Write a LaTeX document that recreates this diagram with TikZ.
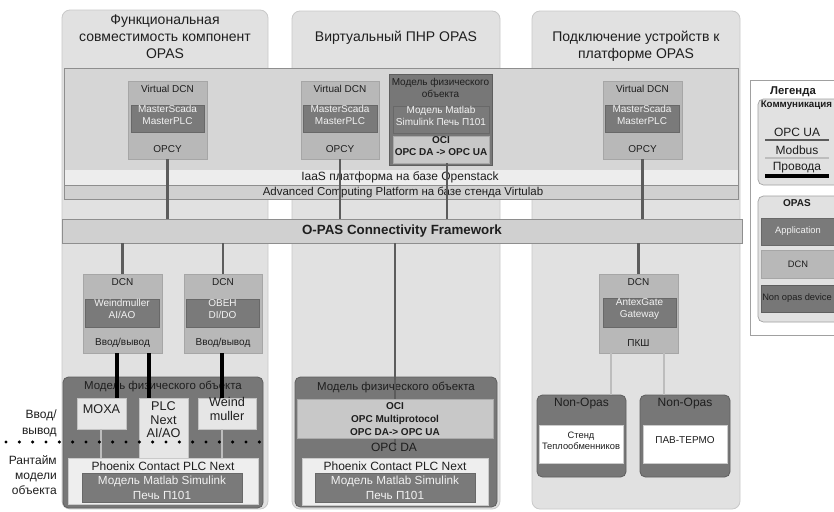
\documentclass[tikz,border=0pt]{standalone}
\usepackage{fontspec}
\setmainfont{Liberation Sans}
\usetikzlibrary{fit,calc}
\definecolor{colbg}{HTML}{E1E1E1}
\definecolor{colbd}{HTML}{C9C9C9}
\definecolor{platbg}{HTML}{D6D6D6}
\definecolor{platbd}{HTML}{8E8E8E}
\definecolor{iaasbg}{HTML}{EDEDED}
\definecolor{advbg}{HTML}{D0D0D0}
\definecolor{dcnbg}{HTML}{B8B8B8}
\definecolor{appbg}{HTML}{7A7A7A}
\definecolor{modbg}{HTML}{777777}
\definecolor{modbd}{HTML}{5E5E5E}
\definecolor{ocibg}{HTML}{C8C8C8}
\definecolor{devbg}{HTML}{E6E6E6}
\definecolor{phxbg}{HTML}{EEEEEE}
\definecolor{opcua}{HTML}{5C5C5C}
\definecolor{modbus}{HTML}{BDBDBD}
\definecolor{txt}{HTML}{1E1E1E}
\definecolor{wtxt}{HTML}{F2F2F2}
\definecolor{legbd}{HTML}{A0A0A0}
\begin{document}
\begin{tikzpicture}[x=0.75pt,y=-0.75pt,
  every node/.style={inner sep=0pt, text=txt},
  area/.style={draw=colbd, fill=colbg, rounded corners=6pt, line width=0.6pt},
  plat/.style={draw=platbd, fill=platbg, line width=0.6pt},
  band/.style={fill=iaasbg},
  advband/.style={draw=platbd, fill=advbg, line width=0.4pt},
  dcnbox/.style={fill=dcnbg, draw=dcnbg!90!black, line width=0.3pt},
  appbox/.style={fill=appbg, draw=appbg!85!black, line width=0.3pt, text=wtxt, align=center},
  modbox/.style={fill=modbg, draw=modbd, rounded corners=4pt, line width=0.6pt},
  modtop/.style={fill=modbg, draw=modbd, line width=0.6pt},
  ocibox/.style={fill=ocibg, draw=ocibg!85!black, line width=0.3pt, align=center},
  devbox/.style={fill=devbg, draw=devbg!85!black, line width=0.3pt, align=center},
  phxbox/.style={fill=phxbg, draw=phxbg!85!black, line width=0.3pt},
  wbox/.style={fill=white, draw=white!80!black, line width=0.3pt, align=center},
  opc/.style={draw=opcua, line width=2pt},
  wire/.style={draw=black, line width=2.4pt},
  mbus/.style={draw=modbus, line width=2pt},
  ftitle/.style={font=\fontsize{10.5}{12.75}\selectfont, align=center},
  fsm/.style={font=\fontsize{7.5}{9}\selectfont, align=center},
  fmd/.style={font=\fontsize{9}{11}\selectfont, align=center},
  fdev/.style={font=\fontsize{9.5}{10.2}\selectfont, align=center},
  fbold/.style={font=\fontsize{7.5}{9.5}\selectfont\bfseries, align=center},
  fmat/.style={font=\fontsize{8.8}{11}\selectfont, align=center, text=wtxt}
]
\useasboundingbox (0,0) rectangle (834,511);
\clip (0,0) rectangle (834,511);
\fill[white] (0,0) rectangle (834,511);

% columns
\node[area, fit={(62,10)(268,509)}] (col1) {};
\node[area, fit={(292,11)(500,509)}] (col2) {};
\node[area, fit={(532,11)(740,509)}] (col3) {};
\node[ftitle] (t1) at (165,37) {Функциональная\\совместимость компонент\\OPAS};
\node[ftitle] (t2) at (396,38) {Виртуальный ПНР OPAS};
\node[ftitle] (t3) at (636,46) {Подключение устройств к\\платформе OPAS};

% platform
\node[plat, fit={(64,68)(738,199)}] (plat) {};
\node[band, fit={(64.5,170)(737.5,185)}] (iaas) {};
\node[advband, fit={(64,185)(738,199)}] (adv) {};
\node[font=\fontsize{9}{10}\selectfont] (iaast) at (400,177.5) {IaaS платформа на базе Openstack};
\node[font=\fontsize{8.6}{10}\selectfont] (advt) at (403,192) {Advanced Computing Platform на базе стенда Virtulab};

% virtual DCNs
\node[dcnbox, fit={(128,81)(207,159)}] (vdcn1) {};
\node[fsm] (vdcn1t) at (vdcn1.center |- 0,89) {Virtual DCN};
\node[appbox, fsm, fit={(131,105)(204,132)}] (app1) {MasterScada\\MasterPLC};
\node[fsm] (vdcn1b) at (vdcn1.center |- 0,149) {OPCY};

\node[dcnbox, fit={(301,81)(379,159)}] (vdcn2) {};
\node[fsm] (vdcn2t) at (vdcn2.center |- 0,89) {Virtual DCN};
\node[appbox, fsm, fit={(303,105)(377,132)}] (app2) {MasterScada\\MasterPLC};
\node[fsm] (vdcn2b) at (vdcn2.center |- 0,149) {OPCY};

\node[dcnbox, fit={(603,81)(682,159)}] (vdcn3) {};
\node[fsm] (vdcn3t) at (vdcn3.center |- 0,89) {Virtual DCN};
\node[appbox, fsm, fit={(605,105)(679,132)}] (app3) {MasterScada\\MasterPLC};
\node[fsm] (vdcn3b) at (vdcn3.center |- 0,149) {OPCY};

% physical model (top)
\node[modtop, fit={(389,74)(492,165)}] (mod1) {};
\node[fsm] (mod1t) at (440.5,87.5) {Модель физического\\объекта};
\node[appbox, fsm, fit={(393,106)(489,133)}] (mat1) {Модель Matlab\\Simulink Печь П101};
\node[ocibox, fbold, fit={(393,136)(489,163)}] (oci1) {OCI\\OPC DA -> OPC UA};

% O-PAS bar
\node[plat, fill=advbg, fit={(62,219)(742,243)}] (opas) {};
\node[font=\fontsize{10}{12}\selectfont\bfseries] (opast) at (402,231) {O-PAS Connectivity Framework};

% connectors top
\coordinate (ociout) at (447,163);
\draw[opc] (vdcn1.south) -- (vdcn1.south |- opas.north);
\draw[opc] (vdcn2.south) -- (vdcn2.south |- opas.north);
\draw[opc] (ociout) -- (ociout |- opas.north);
\draw[opc] (vdcn3.south) -- (vdcn3.south |- opas.north);

% lower left DCNs
\node[dcnbox, fit={(83,274)(162,353)}] (dcn1) {};
\node[fsm] (dcn1t) at (dcn1.center |- 0,282) {DCN};
\node[appbox, fsm, fit={(85,299)(159,327)}] (app4) {Weindmuller\\AI/AO};
\node[fsm] (dcn1b) at (dcn1.center |- 0,343) {Ввод/вывод};

\node[dcnbox, fit={(184,274)(262,353)}] (dcn2) {};
\node[fsm] (dcn2t) at (dcn2.center |- 0,282) {DCN};
\node[appbox, fsm, fit={(186,299)(259,327)}] (app5) {ОВЕН\\DI/DO};
\node[fsm] (dcn2b) at (dcn2.center |- 0,343) {Ввод/вывод};

\draw[opc] (dcn1.north |- opas.south) -- (dcn1.north);
\draw[opc] (dcn2.north |- opas.south) -- (dcn2.north);

% lower left physical model
\node[modbox, fit={(63,377)(263,508)}] (mod2) {};
\node[font=\fontsize{8.6}{10}\selectfont] (mod2t) at (163,386) {Модель физического объекта};
\node[devbox, fdev, fit={(77,398)(126,429)}] (moxa) {MOXA};
\node[devbox, fit={(139,398)(188,460)}] (plc) {};
\node[fdev] (plct) at (163.5,420) {PLC\\Next\\AI/AO};
\node[devbox, fdev, fit={(198,398)(256,429)}] (weind) {Weind\\muller};
\node[phxbox, fit={(68,458)(258,504)}] (phx1) {};
\node[fmd] (phx1t) at (163,466) {Phoenix Contact PLC Next};
\node[appbox, fit={(82,473)(242,502)}] (mat2) {};
\node[fmat] (mat2t) at (162,487.5) {Модель Matlab Simulink\\Печь П101};

\coordinate (wa) at (117,0);
\coordinate (wb) at (149,0);
\coordinate (wc) at (222,0);
\coordinate (ma) at (101,0);
\draw[wire] (wa |- dcn1.south) -- (wa |- moxa.north);
\draw[wire] (wb |- dcn1.south) -- (wb |- plc.north);
\draw[wire] (wc |- dcn2.south) -- (wc |- weind.north);
\draw[mbus] (ma |- moxa.south) -- (ma |- phx1.north);
\draw[mbus] (wc |- weind.south) -- (wc |- phx1.north);

% lower middle
\node[modbox, fit={(295,377)(497,507)}] (mod3) {};
\node[font=\fontsize{8.6}{10}\selectfont] (mod3t) at (396,387) {Модель физического объекта};
\coordinate (daend) at (395,449);
\draw[opc] (daend |- opas.south) -- (daend);
\node[ocibox, fit={(297,399)(493,438)}] (oci2) {};
\node[fbold] (oci2t) at (395,419) {OCI\\OPC Multiprotocol\\OPC DA-> OPC UA};
\node[fmd] (opcda) at (394,447) {OPC DA};
\node[phxbox, fit={(302,458)(488,505)}] (phx2) {};
\node[fmd] (phx2t) at (395,466) {Phoenix Contact PLC Next};
\node[appbox, fit={(315,473)(475,502)}] (mat3) {};
\node[fmat] (mat3t) at (395,487.5) {Модель Matlab Simulink\\Печь П101};

% lower right
\node[dcnbox, fit={(599,274)(678,353)}] (dcn3) {};
\node[fsm] (dcn3t) at (dcn3.center |- 0,282) {DCN};
\node[appbox, fsm, fit={(603,298)(676,327)}] (app6) {AntexGate\\Gateway};
\node[fsm] (dcn3b) at (dcn3.center |- 0,343) {ПКШ};
\draw[opc] (dcn3.north |- opas.south) -- (dcn3.north);

\node[modbox, fit={(537,395)(626,477)}] (non1) {};
\node[fmd] (non1t) at (581.5,404) {Non-Opas};
\node[wbox, font=\fontsize{7}{8.3}\selectfont, fit={(539,425)(623,463)}] (sten) {Стенд\\Теплообменников};
\node[modbox, fit={(640,395)(730,477)}] (non2) {};
\node[fmd] (non2t) at (685,404) {Non-Opas};
\node[wbox, font=\fontsize{7.5}{9}\selectfont, fit={(643,425)(727,463)}] (pav) {ПАВ-ТЕРМО};

\coordinate (mb1) at (611,0);
\coordinate (mb2) at (664,0);
\draw[mbus] (mb1 |- dcn3.south) -- (mb1 |- non1.north);
\draw[mbus] (mb2 |- dcn3.south) -- (mb2 |- non2.north);

% dotted separator and side labels
\coordinate (dotl) at (6,442);
\coordinate (dotr) at (262,442);
\draw[line width=2.6pt, line cap=round, dash pattern=on 0pt off 10pt] (dotl) -- (dotr);
\node[font=\fontsize{9}{12}\selectfont, align=right, anchor=east] (lio) at (57,423) {Ввод/\\вывод};
\node[font=\fontsize{9}{11.2}\selectfont, align=right, anchor=east] (lrt) at (57,475) {Рантайм\\модели\\объекта};

% legend
\node[draw=legbd, fill=white, line width=0.5pt, fit={(750,80)(846,335)}] (leg) {};
\node[font=\fontsize{8.5}{10}\selectfont\bfseries] (legt) at (793,92) {Легенда};
\node[draw=legbd, fill=colbg, rounded corners=4pt, line width=0.5pt, fit={(758,99)(846,185)}] (comm) {};
\node[font=\fontsize{7.3}{9}\selectfont\bfseries, anchor=west] (commt) at (760.5,105) {Коммуникация};
\node[fmd] (lopc) at (797,132) {OPC UA};
\node[fmd] (lmod) at (797,150) {Modbus};
\node[fmd] (lwir) at (797,168) {Провода};
\coordinate (l1a) at (765,140); \coordinate (l1b) at (829,140);
\coordinate (l2a) at (765,158); \coordinate (l2b) at (829,158);
\coordinate (l3a) at (765,176); \coordinate (l3b) at (829,176);
\draw[opc] (l1a) -- (l1b);
\draw[mbus] (l2a) -- (l2b);
\draw[wire] (l3a) -- (l3b);
\node[draw=legbd, fill=colbg, rounded corners=4pt, line width=0.5pt, fit={(758,196)(846,322)}] (lopas) {};
\node[fbold] (lopast) at (797,203) {OPAS};
\node[appbox, fit={(761,218)(846,245)}] (lapp) {};
\node[font=\fontsize{7}{8}\selectfont, text=wtxt] (lappt) at (798,231.5) {Application};
\node[dcnbox, fit={(761,250)(846,278)}] (ldcn) {};
\node[font=\fontsize{7}{8}\selectfont] (ldcnt) at (798,264) {DCN};
\node[fill=modbg, draw=modbd, line width=0.3pt, fit={(761,285)(846,312)}] (lnon) {};
\node[font=\fontsize{7}{8}\selectfont] (lnont) at (797,298.5) {Non opas device};
\end{tikzpicture}
\end{document}
